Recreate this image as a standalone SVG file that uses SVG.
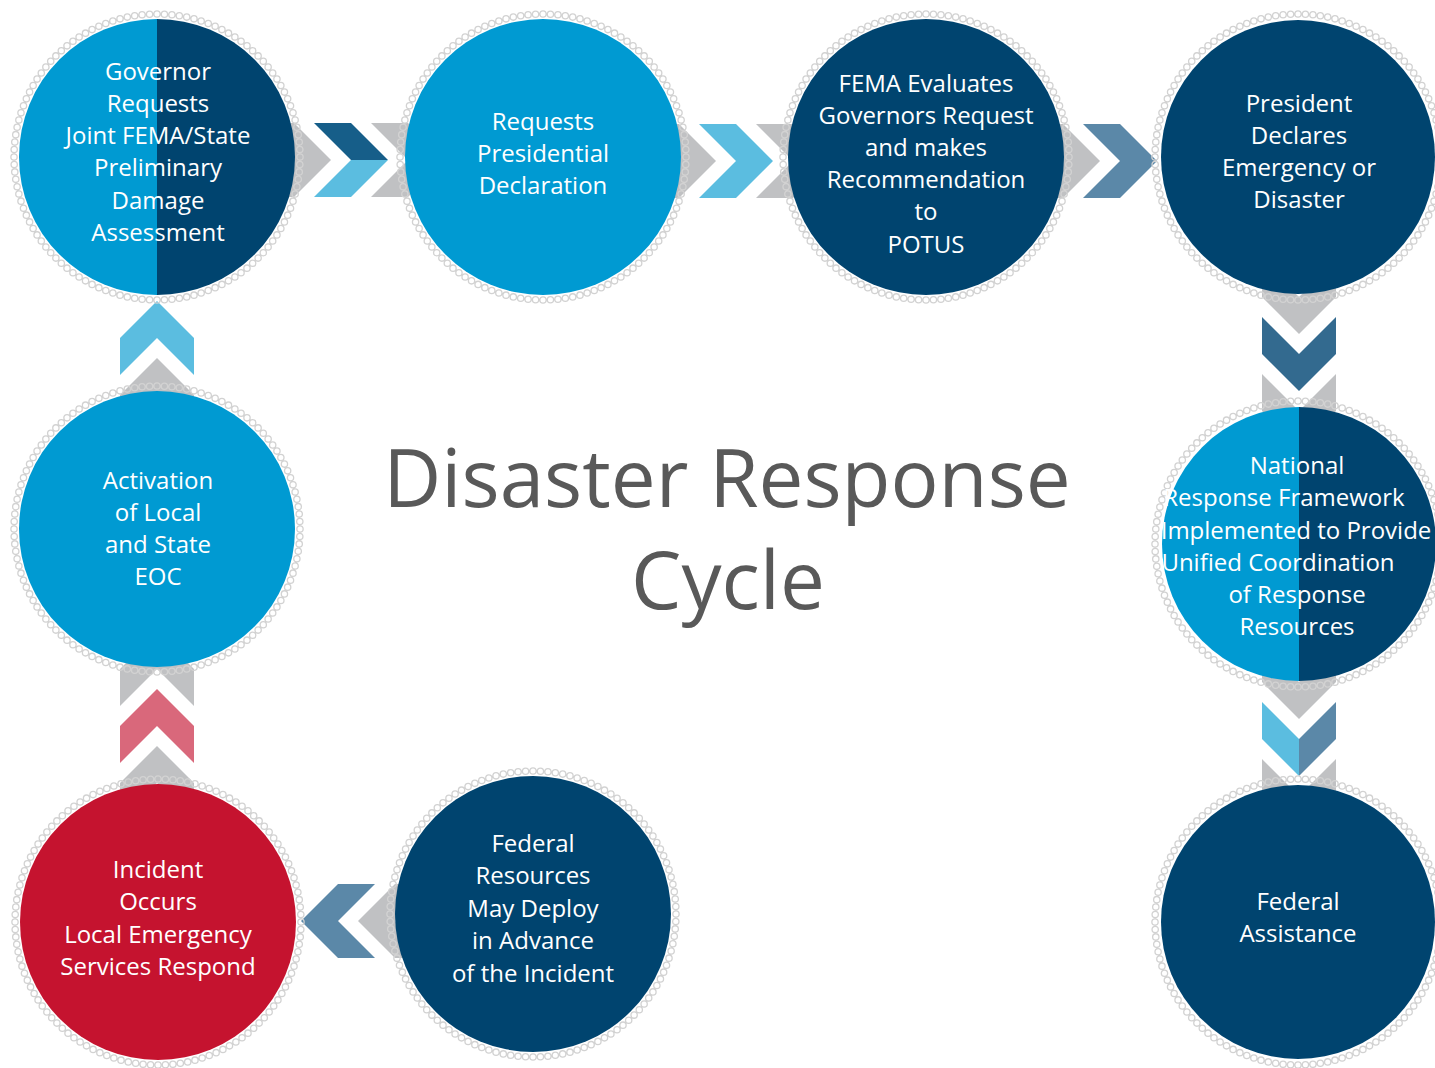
<svg xmlns="http://www.w3.org/2000/svg" width="1435" height="1068" viewBox="0 0 1435 1068">
<style>
.t{font-family:"Open Sans","Noto Sans","Liberation Sans",sans-serif;font-size:24px;fill:#fff;text-anchor:middle}
.title{font-family:"Open Sans","Noto Sans","Liberation Sans",sans-serif;font-size:80px;fill:#595959;text-anchor:middle}
.g{fill:#c0c1c3}
.lb{fill:#009ad2}
.db{fill:#00446f}
.red{fill:#c5132f}
</style>
<defs>
<mask id="beads" maskUnits="userSpaceOnUse" x="-160" y="-160" width="320" height="320">
<circle r="143" fill="none" stroke="#fff" stroke-width="7.6" stroke-linecap="round" pathLength="120" stroke-dasharray="0 1"/>
<circle r="143" fill="none" stroke="#000" stroke-width="5" stroke-linecap="round" pathLength="120" stroke-dasharray="0 1"/>
</mask>
<rect id="ring" x="-155" y="-155" width="310" height="310" fill="#d2d2d2" mask="url(#beads)"/>
<polygon id="chevR" points="0,-37 37,-37 74,0 37,37 0,37 37,0"/>
</defs>
<rect width="1435" height="1068" fill="#fff"/>

<g id="connectors">
<!-- 1 -> 2 -->
<use href="#chevR" x="257" y="160" class="g"/>
<use href="#chevR" x="371" y="160" class="g"/>
<polygon points="314,123 351,123 388,160 351,160" fill="#165e89"/>
<polygon points="351,160 388,160 351,197 314,197" fill="#5bbde0"/>
<!-- 2 -> 3 -->
<use href="#chevR" x="642" y="161" class="g"/>
<use href="#chevR" x="756" y="161" class="g"/>
<use href="#chevR" x="699" y="161" fill="#5bbde0"/>
<!-- 3 -> 4 -->
<use href="#chevR" x="1026" y="161" class="g"/>
<use href="#chevR" x="1083" y="161" fill="#5b88a8"/>
<!-- 4 -> 5 (down) -->
<use href="#chevR" transform="translate(1299,260) rotate(90)" class="g"/>
<use href="#chevR" transform="translate(1299,374) rotate(90)" class="g"/>
<use href="#chevR" transform="translate(1299,317) rotate(90)" fill="#336a8f"/>
<!-- 5 -> 6 (down) -->
<use href="#chevR" transform="translate(1299,645) rotate(90)" class="g"/>
<use href="#chevR" transform="translate(1299,759) rotate(90)" class="g"/>
<polygon points="1262,702 1299,739 1299,776 1262,739" fill="#5bbde0"/>
<polygon points="1299,739 1336,702 1336,739 1299,776" fill="#5b88a8"/>
<!-- 9 -> 1 (up) -->
<use href="#chevR" transform="translate(157,432) rotate(-90)" class="g"/>
<use href="#chevR" transform="translate(157,375) rotate(-90)" fill="#5bbde0"/>
<!-- 8 -> 9 (up) -->
<use href="#chevR" transform="translate(157,706) rotate(-90)" class="g"/>
<use href="#chevR" transform="translate(157,820) rotate(-90)" class="g"/>
<use href="#chevR" transform="translate(157,763) rotate(-90)" fill="#d9687b"/>
<!-- 7 -> 8 (left) -->
<use href="#chevR" transform="translate(432,921) rotate(180)" class="g"/>
<use href="#chevR" transform="translate(375,921) rotate(180)" fill="#5b88a8"/>
</g>

<g id="node1">
<use href="#ring" x="157" y="157"/>
<path d="M157,19 A138,138 0 0 0 157,295 Z" class="lb"/>
<path d="M157,19 A138,138 0 0 1 157,295 Z" class="db"/>
<text class="t"><tspan x="158" y="80">Governor</tspan><tspan x="158" y="112">Requests</tspan><tspan x="158" y="144">Joint FEMA/State</tspan><tspan x="158" y="176">Preliminary</tspan><tspan x="158" y="209">Damage</tspan><tspan x="158" y="241">Assessment</tspan></text>
</g>

<g id="node2">
<use href="#ring" x="543" y="157"/>
<circle cx="543" cy="157" r="138" class="lb"/>
<text class="t"><tspan x="543" y="130">Requests</tspan><tspan x="543" y="162">Presidential</tspan><tspan x="543" y="194">Declaration</tspan></text>
</g>

<g id="node3">
<use href="#ring" x="926" y="157"/>
<circle cx="926" cy="157" r="138" class="db"/>
<text class="t"><tspan x="926" y="92">FEMA Evaluates</tspan><tspan x="926" y="124">Governors Request</tspan><tspan x="926" y="156">and makes</tspan><tspan x="926" y="188">Recommendation</tspan><tspan x="926" y="220">to</tspan><tspan x="926" y="253">POTUS</tspan></text>
</g>

<g id="node4">
<use href="#ring" x="1298" y="157"/>
<circle cx="1298" cy="157" r="137" class="db"/>
<text class="t"><tspan x="1299" y="112">President</tspan><tspan x="1299" y="144">Declares</tspan><tspan x="1299" y="176">Emergency or</tspan><tspan x="1299" y="208">Disaster</tspan></text>
</g>

<g id="node5">
<use href="#ring" x="1298" y="544"/>
<path d="M1299,407 A137,137 0 0 0 1299,681 Z" class="lb"/>
<path d="M1299,407 A137,137 0 0 1 1299,681 Z" class="db"/>
<text class="t"><tspan x="1297" y="474">National</tspan><tspan x="1284" y="506">Response Framework</tspan><tspan x="1296" y="539">Implemented to Provide</tspan><tspan x="1278" y="571">Unified Coordination</tspan><tspan x="1297" y="603">of Response</tspan><tspan x="1297" y="635">Resources</tspan></text>
</g>

<g id="node6">
<use href="#ring" x="1298" y="922"/>
<circle cx="1298" cy="922" r="137" class="db"/>
<text class="t"><tspan x="1298" y="910">Federal</tspan><tspan x="1298" y="942">Assistance</tspan></text>
</g>

<g id="node7">
<use href="#ring" x="533" y="914"/>
<circle cx="533" cy="914" r="138" class="db"/>
<text class="t"><tspan x="533" y="852">Federal</tspan><tspan x="533" y="884">Resources</tspan><tspan x="533" y="917">May Deploy</tspan><tspan x="533" y="949">in Advance</tspan><tspan x="533" y="982">of the Incident</tspan></text>
</g>

<g id="node8">
<use href="#ring" x="158" y="922"/>
<circle cx="158" cy="922" r="138" class="red"/>
<text class="t"><tspan x="158" y="878">Incident</tspan><tspan x="158" y="910">Occurs</tspan><tspan x="158" y="943">Local Emergency</tspan><tspan x="158" y="975">Services Respond</tspan></text>
</g>

<g id="node9">
<use href="#ring" x="157" y="529"/>
<circle cx="157" cy="529" r="138" class="lb"/>
<text class="t"><tspan x="158" y="489">Activation</tspan><tspan x="158" y="521">of Local</tspan><tspan x="158" y="553">and State</tspan><tspan x="158" y="585">EOC</tspan></text>
</g>

<g id="title">
<text class="title"><tspan x="727" y="507">Disaster Response</tspan><tspan x="728" y="609">Cycle</tspan></text>
</g>
</svg>
